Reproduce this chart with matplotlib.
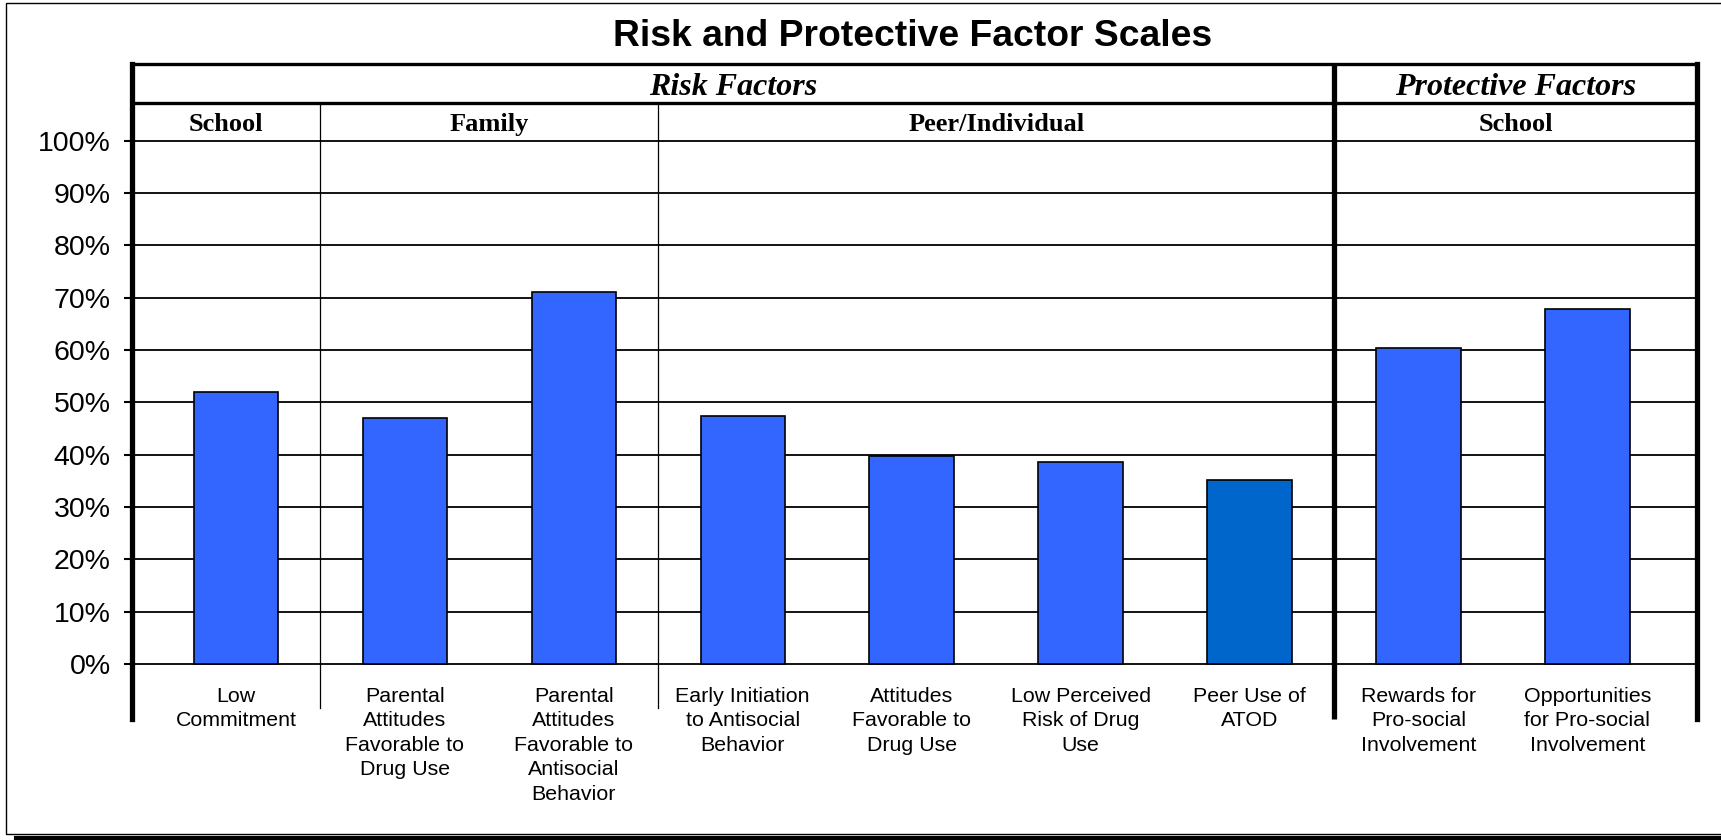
import matplotlib
matplotlib.use('Agg')
import matplotlib.pyplot as plt
from matplotlib.patches import Rectangle
from matplotlib.lines import Line2D

# ── Data ────────────────────────────────────────────────────────────────────
CATEGORIES = ['Low\nCommitment',
              'Parental\nAttitudes\nFavorable to\nDrug Use',
              'Parental\nAttitudes\nFavorable to\nAntisocial\nBehavior',
              'Early Initiation\nto Antisocial\nBehavior',
              'Attitudes\nFavorable to\nDrug Use',
              'Low Perceived\nRisk of Drug\nUse',
              'Peer Use of\nATOD',
              'Rewards for\nPro-social\nInvolvement',
              'Opportunities\nfor Pro-social\nInvolvement']
VALUES = [0.520, 0.470, 0.710, 0.474, 0.398, 0.386, 0.352, 0.604, 0.679]
BAR_COLORS = ['#3366FF'] * 6 + ['#0066CC'] + ['#3366FF'] * 2

TOP_GROUPS = ['Risk Factors', 'Protective Factors']
TOP_COUNTS = [7, 2]
SUB_GROUPS = ['School', 'Family', 'Peer/Individual', 'School']
SUB_COUNTS = [1, 2, 4, 2]

YTICKS = [i / 10 for i in range(11)]
YTICK_LABELS = [f'{i * 10}%' for i in range(11)]

# ── Layout constants ────────────────────────────────────────────────────────
W, H = 1721, 840
X0, X1 = -0.617, 8.648
Y0, Y1 = -0.105, 1.1467
ROW_LINE = 1.0713
DIV_BOTTOM = -0.084
SANS = ['Liberation Sans', 'DejaVu Sans']
SERIF = ['Liberation Serif', 'DejaVu Serif']

fig = plt.figure(figsize=(W / 100, H / 100), dpi=100)
ax = fig.add_axes([131.7 / W, 1 - 719 / H, (1696.9 - 131.7) / W, (719 - 63.7) / H])
ax.set_xlim(X0, X1)
ax.set_ylim(Y0, Y1)

for s in ['left', 'right']:
    ax.spines[s].set_linewidth(3.8)
ax.spines['top'].set_linewidth(2.4)
ax.spines['bottom'].set_visible(False)

ax.set_yticks(YTICKS)
ax.set_yticklabels(YTICK_LABELS, fontsize=20.5, family=SANS)
ax.tick_params(axis='y', direction='out', length=6, width=1.5, pad=9)
ax.tick_params(axis='x', bottom=False, labelbottom=False)

# gridlines
for y in YTICKS:
    ax.axhline(y, color='black', lw=1.3, zorder=1)
ax.axhline(ROW_LINE, color='black', lw=2.4, zorder=1)

# bars
x = list(range(len(VALUES)))
ax.bar(x, VALUES, width=0.5, color=BAR_COLORS, edgecolor='black', linewidth=1.2, zorder=2)

# category labels
for xi, lab in zip(x, CATEGORIES):
    ax.text(xi, -0.043, lab, ha='center', va='top', fontsize=15.4, family=SANS,
            linespacing=1.37)

# ── Header table ────────────────────────────────────────────────────────────
def spans(counts):
    edges, start = [], 0
    for i, c in enumerate(counts):
        lo = X0 if i == 0 else start - 0.5
        hi = X1 if i == len(counts) - 1 else start + c - 0.5
        edges.append((lo, hi))
        start += c
    return edges

top_spans = spans(TOP_COUNTS)
sub_spans = spans(SUB_COUNTS)
top_edges = {hi for lo, hi in top_spans[:-1]}

for (lo, hi), name in zip(top_spans, TOP_GROUPS):
    ax.text((lo + hi) / 2, (Y1 + ROW_LINE) / 2 - 0.007, name, ha='center', va='center',
            fontsize=23, fontweight='bold', fontstyle='italic', family=SERIF)
for (lo, hi), name in zip(sub_spans, SUB_GROUPS):
    ax.text((lo + hi) / 2, (ROW_LINE + 1.0) / 2 - 0.006, name, ha='center', va='center',
            fontsize=19, fontweight='bold', family=SERIF)

for lo, hi in sub_spans[:-1]:
    if hi in top_edges:
        ax.plot([hi, hi], [Y0, Y1], color='black', lw=3.8, clip_on=False, zorder=3,
                solid_capstyle='butt')
    else:
        ax.plot([hi, hi], [DIV_BOTTOM, ROW_LINE], color='black', lw=0.9, zorder=1)

# title
fig.text(913 / W, 1 - 36.5 / H, 'Risk and Protective Factor Scales', ha='center', va='center',
         fontsize=26.8, fontweight='bold', family=SANS)

# chart-area frame with shadow
fig.add_artist(Rectangle((5.5 / W, 1 - 834 / H), 2, (834 - 3.3) / H,
                         transform=fig.transFigure, fill=False, ec='black', lw=1))
fig.add_artist(Line2D([15.6 / W, 1.0], [1 - 838 / H] * 2, transform=fig.transFigure,
                      color='black', lw=3))

fig.savefig('out.png', dpi=100)
